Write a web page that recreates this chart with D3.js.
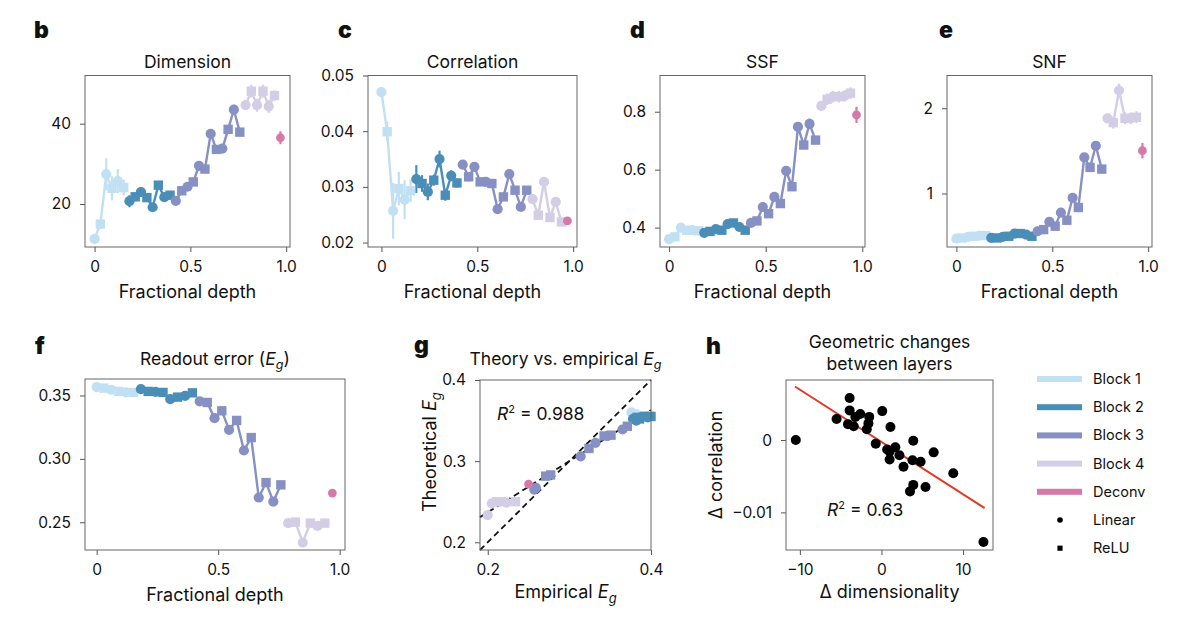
<!DOCTYPE html>
<html>
<head>
<meta charset="utf-8">
<script src="https://cdn.jsdelivr.net/npm/d3@7"></script>
<style>
body { margin: 0; background: #fff; }
text { font-family: Inter, "Liberation Sans", sans-serif; fill: #111; }
</style>
</head>
<body>
<div id="fig"></div>
<script>
// layer info (33 layers)
var depth = [0, 0.03, 0.061, 0.091, 0.121, 0.152, 0.182, 0.212, 0.242, 0.273, 0.303,
    0.333, 0.364, 0.394, 0.424, 0.455, 0.485, 0.515, 0.545, 0.576, 0.606, 0.636,
    0.667, 0.697, 0.727, 0.758, 0.788, 0.818, 0.848, 0.879, 0.909, 0.939, 0.97];
var block = ["Block 1", "Block 1", "Block 1", "Block 1", "Block 1", "Block 1",
    "Block 2", "Block 2", "Block 2", "Block 2", "Block 2", "Block 2", "Block 2", "Block 2",
    "Block 3", "Block 3", "Block 3", "Block 3", "Block 3", "Block 3", "Block 3", "Block 3",
    "Block 3", "Block 3", "Block 3", "Block 3",
    "Block 4", "Block 4", "Block 4", "Block 4", "Block 4", "Block 4", "Deconv"];
var layerType = ["Linear", "ReLU", "Linear", "ReLU", "Linear", "ReLU", "Linear", "ReLU",
    "Linear", "ReLU", "Linear", "ReLU", "Linear", "ReLU", "Linear", "ReLU", "Linear", "ReLU",
    "Linear", "ReLU", "Linear", "ReLU", "Linear", "ReLU", "Linear", "ReLU", "Linear", "ReLU",
    "Linear", "ReLU", "Linear", "ReLU", "Linear"];

var blockNames = ["Block 1", "Block 2", "Block 3", "Block 4", "Deconv"];
var blockColors = ["#c2e0f3", "#4a8eb8", "#8790c3", "#d3cee6", "#d579a8"];

// b: dimension
var dimension = [11.3, 15, 27.4, 23.9, 25.7, 24.1, 20.7, 21.8, 23, 21.6, 19.2, 24.7, 21.7,
    22.2, 20.8, 23.3, 24.3, 25.5, 29.5, 28.7, 37.5, 33.6, 33.8, 38.6, 43.5, 37.9,
    44.6, 48.1, 44.6, 48.1, 44.3, 47, 36.5];
var dimensionErr = [0.8, 1, 4, 3, 3, 2, 1.5, 1, 1.2, 1, 0.8, 1, 0.8, 0.8, 0.7, 0.8, 0.8,
    0.8, 0.8, 0.8, 0.8, 0.8, 0.8, 1, 1.2, 1, 1.2, 1.6, 1.6, 1.6, 1.6, 1.3, 1.6];

// c: correlation
var correlation = [0.047, 0.0399, 0.0257, 0.0297, 0.0277, 0.0293, 0.0314, 0.0306, 0.0291,
    0.0312, 0.035, 0.0285, 0.032, 0.0307, 0.034, 0.0318, 0.0336, 0.0309, 0.0309, 0.0306,
    0.026, 0.0282, 0.0323, 0.0294, 0.0264, 0.0294, 0.0278, 0.0249, 0.0309, 0.0245,
    0.0273, 0.0237, 0.0239];
var correlationErr = [0.0005, 0.0018, 0.005, 0.003, 0.0035, 0.002, 0.0025, 0.0015, 0.0015,
    0.001, 0.0015, 0.001, 0.001, 0.0008, 0.0008, 0.0008, 0.0006, 0.0005, 0.0005, 0.0005,
    0.0005, 0.0005, 0.0005, 0.0005, 0.0005, 0.0005, 0.0005, 0.0005, 0.0005, 0.0005,
    0.0005, 0.0005, 0.0005];

// d: SSF
var ssf = [0.36, 0.368, 0.4, 0.391, 0.391, 0.389, 0.382, 0.387, 0.395, 0.391, 0.412, 0.416,
    0.402, 0.391, 0.416, 0.423, 0.471, 0.448, 0.506, 0.483, 0.596, 0.541, 0.748, 0.685,
    0.758, 0.702, 0.82, 0.843, 0.852, 0.852, 0.855, 0.864, 0.789];
var ssfErr = [0.005, 0.005, 0.006, 0.005, 0.005, 0.005, 0.005, 0.005, 0.005, 0.005, 0.005,
    0.005, 0.005, 0.005, 0.005, 0.006, 0.006, 0.006, 0.008, 0.008, 0.01, 0.01, 0.012, 0.012,
    0.018, 0.014, 0.015, 0.02, 0.02, 0.02, 0.02, 0.02, 0.028];

// e: SNF
var snf = [0.47, 0.478, 0.49, 0.498, 0.506, 0.506, 0.478, 0.478, 0.49, 0.498, 0.53, 0.53,
    0.518, 0.498, 0.557, 0.576, 0.667, 0.616, 0.776, 0.686, 0.949, 0.835, 1.424, 1.306,
    1.56, 1.286, 1.882, 1.831, 2.208, 1.882, 1.882, 1.894, 1.502];
var snfErr = [0.01, 0.01, 0.01, 0.01, 0.01, 0.01, 0.01, 0.01, 0.01, 0.01, 0.01, 0.01, 0.01,
    0.01, 0.01, 0.01, 0.015, 0.015, 0.02, 0.02, 0.025, 0.025, 0.03, 0.03, 0.04, 0.03,
    0.05, 0.07, 0.08, 0.07, 0.07, 0.07, 0.09];

// f: readout error
var readout = [0.3566, 0.3558, 0.3545, 0.3532, 0.3524, 0.3524, 0.355, 0.3532, 0.3529,
    0.3524, 0.3471, 0.3487, 0.3497, 0.3521, 0.3453, 0.3445, 0.3321, 0.3379, 0.3229,
    0.3303, 0.3066, 0.3168, 0.2695, 0.2813, 0.2663, 0.2795, 0.2493, 0.2501, 0.234,
    0.2493, 0.2471, 0.2493, 0.273];

// g: theory vs empirical
var gEmpirical = [0.376, 0.38, 0.385, 0.39, 0.395, 0.398, 0.378, 0.383, 0.388, 0.392, 0.382,
    0.386, 0.396, 0.4, 0.365, 0.371, 0.347, 0.351, 0.332, 0.3425, 0.3138, 0.324, 0.259,
    0.277, 0.257, 0.271, 0.205, 0.211, 0.2, 0.217, 0.223, 0.234, 0.25];
var gTheoretical = [0.36, 0.358, 0.356, 0.356, 0.355, 0.356, 0.352, 0.354, 0.354, 0.355,
    0.35, 0.352, 0.354, 0.355, 0.339, 0.343, 0.331, 0.332, 0.3226, 0.331, 0.306, 0.3156,
    0.267, 0.283, 0.265, 0.2815, 0.248, 0.25, 0.2335, 0.25, 0.249, 0.25, 0.2717];
var gFit = [0.63, 0.111]; // slope, intercept
var gR2 = "0.988";

// h: geometric changes between layers
var hDim = [-10.5, -5.5, -3.9, -3.9, -4.1, -3.4, -3.2, -2.6, -1.5, -1.6, -1.8, -0.7, 0.1,
    1.1, 0.7, 1.0, 1.7, 1.0, 2.2, 2.7, 3.9, 3.8, 4.8, 3.9, 3.5, 5.4, 6.4, 8.8, 12.5];
var hCorr = [0, 0.0029, 0.0058, 0.0041, 0.0022, 0.0019, 0.0032, 0.0036, 0.0032, 0.0023,
    0.0015, -0.0005, 0.004, 0.0018, -0.0013, -0.0016, -0.001, -0.0027, -0.0021, -0.0037,
    -0.0001, -0.0028, -0.003, -0.0062, -0.0071, -0.0065, -0.0017, -0.0046, -0.0141];
var hFit = [-0.000723, -0.00026]; // slope, intercept
var hFitRange = [-10.6, 12.65];
var hR2 = "0.63";

var depthTicks = [0, 0.5, 1];
var depthTickLabels = ["0", "0.5", "1.0"];

var svg = d3.select("#fig")
    .append("svg")
    .attr("width", 1200)
    .attr("height", 617);

function colorOf(b) {
    return blockColors[blockNames.indexOf(b)];
}

// build a panel: group, scales, frame, axes
function makePanel(box, xDomain, yDomain, xTicks, xFmt, yTicks, yFmt) {
    var g = svg.append("g").attr("transform", `translate(${box.x}, ${box.y})`);
    var x = d3.scaleLinear().domain(xDomain).range([0, box.w]);
    var y = d3.scaleLinear().domain(yDomain).range([box.h, 0]);

    var xAxis = g.append("g")
        .attr("transform", `translate(0, ${box.h})`)
        .call(d3.axisBottom(x).tickValues(xTicks).tickFormat(xFmt).tickSize(5).tickPadding(9));
    var yAxis = g.append("g")
        .call(d3.axisLeft(y).tickValues(yTicks).tickFormat(yFmt).tickSize(5).tickPadding(9));
    [xAxis, yAxis].forEach(function(a) {
        a.select(".domain").remove();
        a.selectAll("line").attr("stroke", "#555").attr("stroke-width", 1);
        a.selectAll("text").attr("font-size", 15.5).attr("font-family", null).attr("fill", "#111");
    });

    var plot = g.append("g");
    g.append("rect")
        .attr("width", box.w)
        .attr("height", box.h)
        .attr("fill", "none")
        .attr("stroke", "#666")
        .attr("stroke-width", 1);
    return { g: g, plot: plot, x: x, y: y, box: box };
}

function marker(sel, type, cx, cy, r) {
    if (type === "Linear") {
        sel.append("circle").attr("cx", cx).attr("cy", cy).attr("r", r);
    } else {
        sel.append("rect").attr("x", cx - r * 0.92).attr("y", cy - r * 0.92)
            .attr("width", r * 1.84).attr("height", r * 1.84);
    }
}

function label(x, y, txt, size, anchor) {
    return svg.append("text")
        .attr("x", x).attr("y", y)
        .attr("font-size", size)
        .attr("text-anchor", anchor || "middle")
        .text(txt);
}

function panelLetter(x, y, txt) {
    svg.append("text")
        .attr("x", x).attr("y", y)
        .attr("font-size", 23)
        .attr("font-weight", 900)
        .text(txt);
}

// E with subscript g
function addEg(t, size) {
    t.append("tspan").attr("font-style", "italic").text("E");
    t.append("tspan").attr("font-style", "italic").attr("font-size", size * 0.72)
        .attr("dy", size * 0.25).text("g");
}

function markerSize(i) {
    return block[i] === "Deconv" ? 4.4 : 5.1;
}

// depth plot: lines within each block, error bars, markers
function depthPlot(p, values, errs) {
    var idx = d3.range(depth.length);
    blockNames.forEach(function(b) {
        var pts = idx.filter(i => block[i] === b);
        p.plot.append("path")
            .datum(pts)
            .attr("fill", "none")
            .attr("stroke", colorOf(b))
            .attr("stroke-width", 2.4)
            .attr("d", d3.line().x(i => p.x(depth[i])).y(i => p.y(values[i])));
    });
    if (errs) {
        p.plot.selectAll(".err")
            .data(idx)
            .enter()
            .append("line")
            .attr("x1", i => p.x(depth[i]))
            .attr("x2", i => p.x(depth[i]))
            .attr("y1", i => p.y(values[i] - errs[i]))
            .attr("y2", i => p.y(values[i] + errs[i]))
            .attr("stroke", i => colorOf(block[i]))
            .attr("stroke-width", 2.2);
    }
    idx.forEach(function(i) {
        var m = p.plot.append("g").attr("fill", colorOf(block[i]));
        marker(m, layerType[i], p.x(depth[i]), p.y(values[i]), markerSize(i));
    });
}

var fmtDepth = (d, i) => depthTickLabels[i];

// b
var pb = makePanel({ x: 85, y: 75.5, w: 205, h: 171.5 }, [-0.05, 1.02], [9.3, 52],
    depthTicks, fmtDepth, [20, 40], d3.format("d"));
depthPlot(pb, dimension, dimensionErr);
panelLetter(34, 38, "b");
label(187.5, 68, "Dimension", 17.5);
label(187.5, 298, "Fractional depth", 18);

// c
var pc = makePanel({ x: 368, y: 75.5, w: 209, h: 171.5 }, [-0.07, 1.02], [0.0192, 0.05],
    depthTicks, fmtDepth, [0.02, 0.03, 0.04, 0.05], d3.format(".2f"));
depthPlot(pc, correlation, correlationErr);
panelLetter(338, 38, "c");
label(472.5, 68, "Correlation", 17.5);
label(472.5, 298, "Fractional depth", 18);

// d
var pd = makePanel({ x: 660, y: 75.5, w: 205, h: 171.5 }, [-0.047, 1.014], [0.333, 0.925],
    depthTicks, fmtDepth, [0.4, 0.6, 0.8], d3.format(".1f"));
depthPlot(pd, ssf, ssfErr);
panelLetter(630, 38, "d");
label(762.5, 68, "SSF", 17.5);
label(762.5, 298, "Fractional depth", 18);

// e
var pe = makePanel({ x: 947, y: 75.5, w: 205, h: 171.5 }, [-0.049, 1.02], [0.372, 2.384],
    depthTicks, fmtDepth, [1, 2], d3.format("d"));
depthPlot(pe, snf, snfErr);
panelLetter(939, 38, "e");
label(1049.5, 68, "SNF", 17.5);
label(1049.5, 298, "Fractional depth", 18);

// f
var pf = makePanel({ x: 85, y: 379, w: 260, h: 171 }, [-0.048, 1.022], [0.2281, 0.363],
    depthTicks, fmtDepth, [0.25, 0.3, 0.35], d3.format(".2f"));
depthPlot(pf, readout, null);
panelLetter(35, 354, "f");
var tf = label(215, 365, "Readout error (", 17.5);
addEg(tf, 17.5);
tf.append("tspan").attr("dy", -17.5 * 0.25).text(")");
label(215, 601, "Fractional depth", 18);

// g
var pg = makePanel({ x: 480, y: 380, w: 171, h: 170 }, [0.1905, 0.4], [0.1905, 0.4],
    [0.2, 0.4], d3.format(".1f"), [0.2, 0.3, 0.4], d3.format(".1f"));
var gd = pg.x.domain();
pg.plot.append("line")
    .attr("x1", pg.x(gd[0])).attr("y1", pg.y(gd[0]))
    .attr("x2", pg.x(gd[1])).attr("y2", pg.y(gd[1]))
    .attr("stroke", "#111").attr("stroke-width", 1.8).attr("stroke-dasharray", "6,4");
pg.plot.append("line")
    .attr("x1", pg.x(gd[0])).attr("y1", pg.y(gFit[0] * gd[0] + gFit[1]))
    .attr("x2", pg.x(gd[1])).attr("y2", pg.y(gFit[0] * gd[1] + gFit[1]))
    .attr("stroke", "#111").attr("stroke-width", 1.8).attr("stroke-dasharray", "6,4");
d3.range(gEmpirical.length).forEach(function(i) {
    var m = pg.plot.append("g").attr("fill", colorOf(block[i]));
    marker(m, layerType[i], pg.x(gEmpirical[i]), pg.y(gTheoretical[i]), markerSize(i));
});
var rg = pg.g.append("text").attr("x", 17).attr("y", 40).attr("font-size", 17.5);
rg.append("tspan").attr("font-style", "italic").text("R");
rg.append("tspan").attr("font-size", 11).attr("dy", -7).text("2");
rg.append("tspan").attr("dy", 7).text(" = " + gR2);
panelLetter(414, 353, "g");
var tg = label(565.5, 365, "Theory vs. empirical ", 17.5);
addEg(tg, 17.5);
var xg = label(565.5, 598, "Empirical ", 18);
addEg(xg, 18);
var yg = svg.append("text")
    .attr("transform", "translate(436, 452) rotate(-90)")
    .attr("text-anchor", "middle")
    .attr("font-size", 18)
    .text("Theoretical ");
addEg(yg, 18);

// h
var ph = makePanel({ x: 786, y: 380, w: 207, h: 170 }, [-11.7, 13.67], [-0.0152, 0.0083],
    [-10, 0, 10], d3.format("d"), [-0.01, 0], d => d === 0 ? "0" : d3.format(".2f")(d));
ph.plot.append("line")
    .attr("x1", ph.x(hFitRange[0])).attr("y1", ph.y(hFit[0] * hFitRange[0] + hFit[1]))
    .attr("x2", ph.x(hFitRange[1])).attr("y2", ph.y(hFit[0] * hFitRange[1] + hFit[1]))
    .attr("stroke", "#e03a26").attr("stroke-width", 2);
ph.plot.selectAll(".pt")
    .data(hDim)
    .enter()
    .append("circle")
    .attr("cx", d => ph.x(d))
    .attr("cy", (d, i) => ph.y(hCorr[i]))
    .attr("r", 5)
    .attr("fill", "#000");
var rh = ph.g.append("text").attr("x", 41).attr("y", 136).attr("font-size", 17.5);
rh.append("tspan").attr("font-style", "italic").text("R");
rh.append("tspan").attr("font-size", 11).attr("dy", -7).text("2");
rh.append("tspan").attr("dy", 7).text(" = " + hR2);
panelLetter(706, 354, "h");
label(889.5, 348, "Geometric changes", 17.5);
label(889.5, 370, "between layers", 17.5);
label(889.5, 598, "\u0394 dimensionality", 18);
svg.append("text")
    .attr("transform", "translate(722, 465) rotate(-90)")
    .attr("text-anchor", "middle")
    .attr("font-size", 18)
    .text("\u0394 correlation");

// legend
var legend = svg.append("g").attr("transform", "translate(1037, 379)");
blockNames.forEach(function(b, i) {
    legend.append("rect")
        .attr("x", 0).attr("y", i * 28.2 - 3)
        .attr("width", 45).attr("height", 6)
        .attr("fill", blockColors[i]);
    legend.append("text")
        .attr("x", 56).attr("y", i * 28.2 + 5)
        .attr("font-size", 14.5)
        .text(b);
});
["Linear", "ReLU"].forEach(function(t, j) {
    var yy = (5 + j) * 28.2;
    var m = legend.append("g").attr("fill", "#000");
    marker(m, t, 23, yy, 2.8);
    legend.append("text")
        .attr("x", 56).attr("y", yy + 5)
        .attr("font-size", 14.5)
        .text(t);
});
</script>
</body>
</html>
